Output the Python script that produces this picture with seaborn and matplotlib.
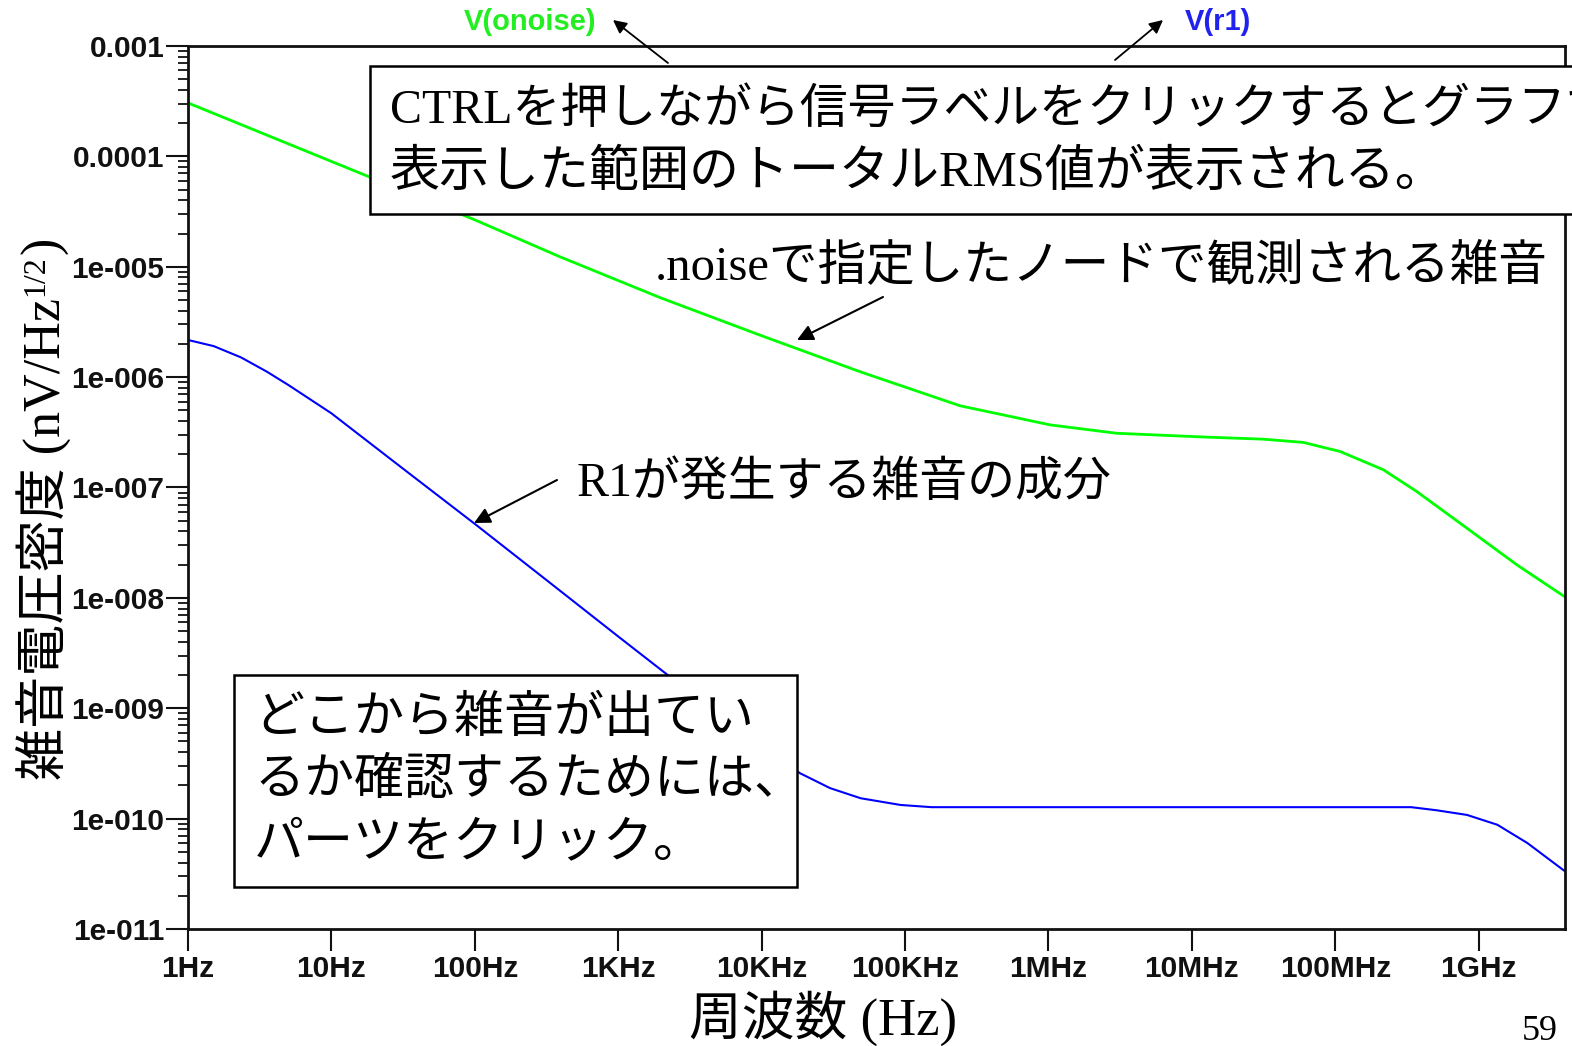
import numpy as np
import matplotlib
matplotlib.use("Agg")
import matplotlib.pyplot as plt
import seaborn as sns
from matplotlib.patches import Rectangle, FancyArrowPatch
from matplotlib.ticker import LogLocator, NullFormatter

# ---------------- data ----------------
onoise_freq = [1, 10, 100, 393, 1960, 9750, 4.85e4, 2.42e5, 1.03e6, 2.99e6,
               1.27e7, 3.16e7, 6.0e7, 1.08e8, 2.16e8, 3.70e8, 8.26e8, 1.85e9, 4.0e9]
onoise_val = [3.05e-4, 9.0e-5, 2.66e-5, 1.23e-5, 5.25e-6, 2.40e-6, 1.12e-6,
              5.5e-7, 3.69e-7, 3.10e-7, 2.86e-7, 2.74e-7, 2.56e-7, 2.12e-7,
              1.45e-7, 9.2e-8, 4.29e-8, 1.99e-8, 1.02e-8]

r1_freq = [1, 1.51, 2.34, 3.55, 5.0, 7.1, 10, 31.6, 100, 316, 1000, 2120, 6300,
           1.85e4, 3.0e4, 4.9e4, 9.3e4, 1.53e5, 3.38e8, 5.1e8, 8.3e8, 1.35e9,
           2.19e9, 4.17e9]
r1_val = [2.17e-6, 1.91e-6, 1.51e-6, 1.12e-6, 8.5e-7, 6.3e-7, 4.7e-7, 1.48e-7,
          4.68e-8, 1.45e-8, 4.47e-9, 2.09e-9, 7.1e-10, 2.58e-10, 1.89e-10,
          1.53e-10, 1.33e-10, 1.27e-10, 1.27e-10, 1.19e-10, 1.08e-10, 8.8e-11,
          6.0e-11, 3.2e-11]

x_ticks = [1, 10, 100, 1e3, 1e4, 1e5, 1e6, 1e7, 1e8, 1e9]
x_tick_labels = ["1Hz", "10Hz", "100Hz", "1KHz", "10KHz", "100KHz",
                 "1MHz", "10MHz", "100MHz", "1GHz"]
y_ticks = [1e-3, 1e-4, 1e-5, 1e-6, 1e-7, 1e-8, 1e-9, 1e-10, 1e-11]
y_tick_labels = ["0.001", "0.0001", "1e-005", "1e-006", "1e-007",
                 "1e-008", "1e-009", "1e-010", "1e-011"]

series_names = ["V(onoise)", "V(r1)"]
box1_lines = ["CTRLを押しながら信号ラベルをクリックするとグラフで",
              "表示した範囲のトータルRMS値が表示される。"]
box2_lines = ["どこから雑音が出てい", "るか確認するためには、", "パーツをクリック。"]
note_onoise = ".noiseで指定したノードで観測される雑音"
note_r1 = "R1が発生する雑音の成分"
xlabel_text = "周波数 (Hz)"
ylabel_main = "雑音電圧密度 (nV/Hz"
ylabel_sup = "1/2"
ylabel_end = ")"
page_no = "59"

# ---------------- style ----------------
sns.set_style("white")
plt.rcParams["font.family"] = ["Liberation Sans", "DejaVu Sans"]
JP = ["Liberation Serif", "Noto Sans CJK JP"]
TICKFONT = ["Liberation Sans", "DejaVu Sans"]

W, H = 1572, 1046
fig = plt.figure(figsize=(W / 100, H / 100), dpi=100)
fig.patch.set_facecolor("white")


def fx(x):
    return x / W


def fy(y):
    return 1 - y / H


ax_l, ax_r, ax_t, ax_b = 188, 1565, 46, 929
ax = fig.add_axes([fx(ax_l), fy(ax_b), (ax_r - ax_l) / W, (ax_b - ax_t) / H])

sns.lineplot(x=onoise_freq, y=onoise_val, ax=ax, color="#00ff00", lw=2.0)
sns.lineplot(x=r1_freq, y=r1_val, ax=ax, color="#0000ff", lw=1.5)

ax.set_xscale("log")
ax.set_yscale("log")
ax.set_xlim(1, 4.0e9)
ax.set_ylim(1e-11, 1e-3)

ax.set_xticks(x_ticks)
ax.set_xticklabels(x_tick_labels)
ax.set_yticks(y_ticks)
ax.set_yticklabels(y_tick_labels)
ax.xaxis.set_minor_locator(LogLocator(base=10, subs=np.arange(2, 10)))
ax.yaxis.set_minor_locator(LogLocator(base=10, subs=np.arange(2, 10)))
ax.xaxis.set_minor_formatter(NullFormatter())
ax.yaxis.set_minor_formatter(NullFormatter())
ax.tick_params(which="major", length=16, width=1.5, direction="out",
               color="#111111")
ax.tick_params(axis="y", which="major", pad=1)
ax.tick_params(axis="x", which="major", pad=3)
ax.tick_params(which="minor", length=7, width=1.3, direction="out",
               color="#111111")
ax.tick_params(axis="both", which="both", bottom=True, left=True,
               top=False, right=False)
for lab in ax.get_xticklabels() + ax.get_yticklabels():
    lab.set_family(TICKFONT)
    lab.set_fontweight("bold")
    lab.set_fontsize(21.5)
    lab.set_color("#111111")
for s in ax.spines.values():
    s.set_visible(True)
    s.set_color("#111111")
    s.set_linewidth(2.0)
ax.set_xlabel("")
ax.set_ylabel("")
ax.grid(False)

# ---------------- series labels above plot ----------------
fig.text(fx(530), fy(22), series_names[0], color="#22ee22", fontsize=21,
         fontweight="bold", ha="center", va="center", family=TICKFONT)
fig.text(fx(1218), fy(22), series_names[1], color="#2222ee", fontsize=21,
         fontweight="bold", ha="center", va="center", family=TICKFONT)


def arrow(x0, y0, x1, y1, ms=20, lw=1.5):
    a = FancyArrowPatch((fx(x0), fy(y0)), (fx(x1), fy(y1)),
                        transform=fig.transFigure, arrowstyle="-|>",
                        mutation_scale=ms, color="black", lw=lw,
                        shrinkA=0, shrinkB=0, zorder=5)
    fig.add_artist(a)


# ---------------- boxes ----------------
fig.add_artist(Rectangle((fx(370), fy(214)), fx(1700 - 370), (214 - 66) / H,
                         transform=fig.transFigure, facecolor="white",
                         edgecolor="black", lw=1.8, zorder=3))
box1_sizes = [34.5, 36]
for i, line in enumerate(box1_lines):
    fig.text(fx(390), fy(111 + i * 63), line, fontsize=box1_sizes[i],
             family=JP, ha="left", va="center", color="black", zorder=4)

fig.add_artist(Rectangle((fx(234), fy(887)), (797 - 234) / W, (887 - 675) / H,
                         transform=fig.transFigure, facecolor="white",
                         edgecolor="black", lw=1.8, zorder=3))
for i, line in enumerate(box2_lines):
    fig.text(fx(254), fy(720 + i * 62), line, fontsize=36, family=JP,
             ha="left", va="center", color="black", zorder=4)

# ---------------- annotations ----------------
fig.text(fx(655), fy(266), note_onoise, fontsize=35, family=JP,
         ha="left", va="center", color="black", zorder=4)
arrow(883, 297, 797, 340, ms=24)
fig.text(fx(577), fy(484), note_r1, fontsize=34.5, family=JP,
         ha="left", va="center", color="black", zorder=4)
arrow(557, 480, 474, 523, ms=24)

arrow(668, 63, 613, 20, ms=20, lw=1.3)
arrow(1115, 60, 1163, 20, ms=20, lw=1.3)

# ---------------- axis labels ----------------
fig.text(fx(823), fy(1018), xlabel_text, fontsize=38, family=JP,
         ha="center", va="center", color="black")

yl = fig.text(fx(44), fy(780), ylabel_main, fontsize=37.5, family=JP,
              rotation=90, rotation_mode="anchor", ha="left", va="center",
              color="black")
fig.canvas.draw()
bb = yl.get_window_extent(fig.canvas.get_renderer())
sup = fig.text(fx(36), (bb.y1 + 2) / H, ylabel_sup, fontsize=23,
               family=JP, rotation=90, rotation_mode="anchor", ha="left",
               va="center", color="black")
fig.canvas.draw()
bb2 = sup.get_window_extent(fig.canvas.get_renderer())
fig.text(fx(44), (bb2.y1 + 1) / H, ylabel_end, fontsize=37.5, family=JP,
         rotation=90, rotation_mode="anchor", ha="left", va="center",
         color="black")

fig.text(fx(1540), fy(1032), page_no, fontsize=26, family=JP,
         ha="center", va="center", color="black")

fig.savefig("out.png", dpi=100, facecolor="white")
